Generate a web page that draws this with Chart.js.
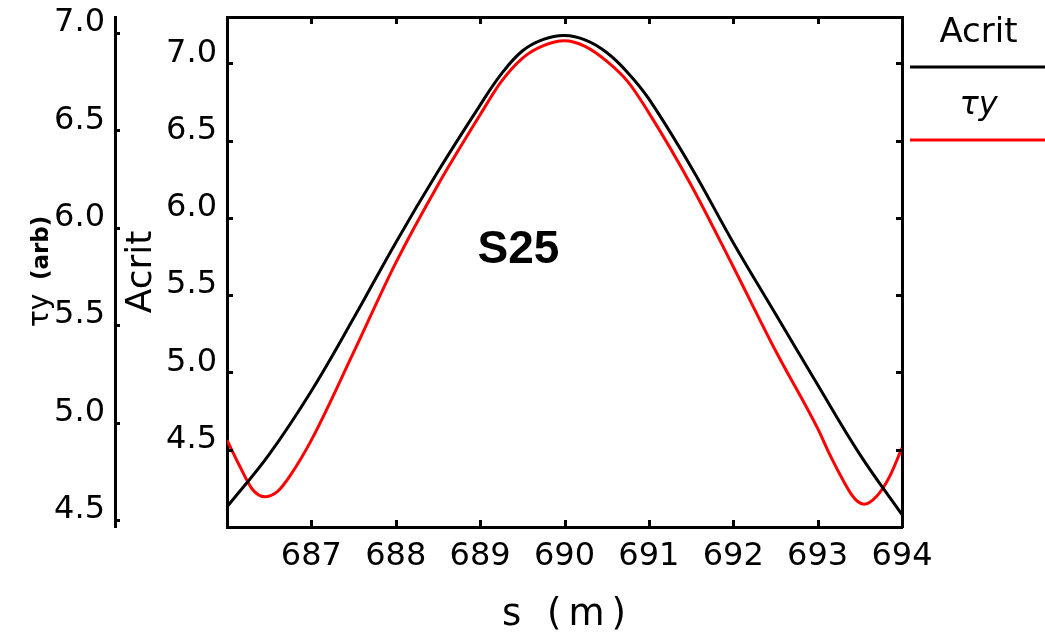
<!DOCTYPE html>
<html>
<head>
<meta charset="utf-8">
<script src="https://cdn.jsdelivr.net/npm/chart.js@4.4.0/dist/chart.umd.min.js"></script>
<style>
html,body{margin:0;padding:0;background:#fff;}
#wrap{width:1045px;height:635px;position:relative;}
</style>
</head>
<body>
<div id="wrap"><canvas id="c" width="1045" height="635"></canvas></div>
<script>
// ---------- data ----------
const sAcrit = [686.0, 686.5, 687.0, 687.5, 688.0, 688.5, 689.0, 689.25, 689.5, 689.75, 690.0,
                690.25, 690.5, 690.75, 691.0, 691.5, 692.0, 692.5, 693.0, 693.5, 694.0];
const acrit  = [4.13, 4.47, 4.88, 5.35, 5.84, 6.30, 6.73, 6.93, 7.08, 7.155, 7.18,
                7.15, 7.07, 6.94, 6.77, 6.33, 5.84, 5.38, 4.92, 4.47, 4.08];

const sTau = [686.0, 686.15, 686.3, 686.45, 686.6, 686.75, 687.0, 687.5, 688.0, 688.5, 689.0,
              689.25, 689.5, 689.75, 690.0, 690.25, 690.5, 690.75, 691.0, 691.5, 692.0,
              692.5, 693.0, 693.15, 693.3, 693.4, 693.475, 693.55, 693.7, 693.85, 694.0];
const tauY = [4.91, 4.777, 4.658, 4.619, 4.647, 4.729, 4.91, 5.36, 5.82, 6.22, 6.58,
              6.75, 6.87, 6.935, 6.96, 6.93, 6.855, 6.75, 6.59, 6.22, 5.80,
              5.37, 4.97, 4.83, 4.705, 4.632, 4.595, 4.581, 4.622, 4.72, 4.87];

const xTicks     = [687, 688, 689, 690, 691, 692, 693, 694];
const acritTicks = [4.5, 5.0, 5.5, 6.0, 6.5, 7.0];
const tauTicks   = [4.5, 5.0, 5.5, 6.0, 6.5, 7.0];

const seriesNames = ['Acrit', 'τy'];
const xTitle = 's (m)';
const acritTitle = 'Acrit';
const tauTitleMain = 'τy';
const tauTitleUnit = '(arb)';
const annotationText = 'S25';
const annotationAt = {s: 688.97, acrit: 5.71};

// ---------- helpers ----------
const FONT = 'DejaVu Sans';
const pts = (xs, ys) => xs.map((x, i) => ({x: x, y: ys[i]}));

const decorations = {
  id: 'decorations',
  afterDraw(chart) {
    const ctx = chart.ctx;
    const ca = chart.chartArea;
    const x = chart.scales.x, y = chart.scales.y, y2 = chart.scales.y2;
    ctx.save();
    ctx.strokeStyle = '#000';
    ctx.lineWidth = 3;
    ctx.lineCap = 'butt';
    ctx.beginPath();
    xTicks.forEach(v => {
      const px = Math.round(x.getPixelForValue(v)) + 0.5;
      ctx.moveTo(px, ca.bottom); ctx.lineTo(px, ca.bottom - 7);
      ctx.moveTo(px, ca.top); ctx.lineTo(px, ca.top + 7);
    });
    acritTicks.forEach(v => {
      const py = Math.round(y.getPixelForValue(v)) + 0.5;
      ctx.moveTo(ca.left, py); ctx.lineTo(ca.left + 6, py);
      ctx.moveTo(ca.right, py); ctx.lineTo(ca.right - 6, py);
    });
    tauTicks.forEach(v => {
      const py = Math.round(y2.getPixelForValue(v)) + 0.5;
      ctx.moveTo(y2.right, py); ctx.lineTo(y2.right + 5, py);
    });
    ctx.stroke();

    ctx.fillStyle = '#000';
    // x axis title
    ctx.save();
    ctx.font = '37px "' + FONT + '"';
    ctx.letterSpacing = '7px';
    ctx.textAlign = 'center';
    ctx.textBaseline = 'alphabetic';
    ctx.fillText(xTitle, (ca.left + ca.right) / 2 + 3, chart.height - 10);
    ctx.restore();

    // outer axis title
    const cy = (ca.top + ca.bottom) / 2;
    const bx = y2.left + 48;
    ctx.textAlign = 'left';
    ctx.textBaseline = 'alphabetic';
    ctx.save();
    ctx.translate(bx, cy + 55);
    ctx.rotate(-Math.PI / 2);
    ctx.font = '28px "' + FONT + '"';
    ctx.fillText(tauTitleMain, 0, 0);
    ctx.restore();
    ctx.save();
    ctx.translate(bx, cy + 8);
    ctx.rotate(-Math.PI / 2);
    ctx.font = 'bold 23px "' + FONT + '"';
    ctx.fillText(tauTitleUnit, 0, 0);
    ctx.restore();

    // annotation
    ctx.font = 'bold 46px "Liberation Sans"';
    ctx.textAlign = 'left';
    ctx.fillText(annotationText, x.getPixelForValue(annotationAt.s), y.getPixelForValue(annotationAt.acrit));

    // legend
    const lx0 = ca.right + 8, lx1 = chart.width;
    const lcx = (lx0 + lx1) / 2 + 1;
    ctx.textAlign = 'center';
    ctx.font = '34px "' + FONT + '"';
    ctx.fillText(seriesNames[0], lcx, ca.top + 25);
    ctx.strokeStyle = chart.data.datasets[0].borderColor;
    ctx.beginPath(); ctx.moveTo(lx0, ca.top + 50); ctx.lineTo(lx1, ca.top + 50); ctx.stroke();
    ctx.font = 'italic 32px "' + FONT + '"';
    ctx.fillText(seriesNames[1], lcx, ca.top + 97);
    ctx.strokeStyle = chart.data.datasets[1].borderColor;
    ctx.beginPath(); ctx.moveTo(lx0, ca.top + 123); ctx.lineTo(lx1, ca.top + 123); ctx.stroke();
    ctx.restore();
  }
};

Chart.defaults.font.family = FONT;
Chart.defaults.color = '#000';

const noPad = s => { s.paddingTop = 0; s.paddingBottom = 0; s.paddingLeft = 0; s.paddingRight = 0; };

new Chart(document.getElementById('c'), {
  type: 'line',
  data: {
    datasets: [
      {label: seriesNames[0], data: pts(sAcrit, acrit), yAxisID: 'y', xAxisID: 'x',
       borderColor: '#000000', borderWidth: 3, pointRadius: 0, tension: 0.4, fill: false},
      {label: seriesNames[1], data: pts(sTau, tauY), yAxisID: 'y2', xAxisID: 'x',
       borderColor: '#ff0000', borderWidth: 3, pointRadius: 0, cubicInterpolationMode: 'monotone', fill: false}
    ]
  },
  options: {
    responsive: false,
    animation: false,
    devicePixelRatio: 1,
    layout: {autoPadding: false, padding: {top: 17, right: 143, left: 0, bottom: 0}},
    plugins: {legend: {display: false}, tooltip: {enabled: false}},
    scales: {
      x: {
        type: 'linear', position: 'bottom', min: 686, max: 694,
        afterBuildTicks: s => { s.ticks = xTicks.map(v => ({value: v})); },
        afterFit: s => { s.height = 108; noPad(s); },
        grid: {display: false, drawTicks: false},
        border: {display: true, width: 3, color: '#000'},
        ticks: {autoSkip: false, maxRotation: 0, padding: 10, font: {size: 32}, color: '#000',
                callback: v => String(v)},
        title: {display: false}
      },
      xTop: {
        type: 'linear', position: 'top', min: 686, max: 694,
        afterFit: s => { s.height = 0; noPad(s); },
        grid: {display: false, drawTicks: false},
        border: {display: true, width: 3, color: '#000'},
        ticks: {display: false}
      },
      y: {
        type: 'linear', position: 'left', min: 4.0, max: 7.3, weight: 0,
        afterBuildTicks: s => { s.ticks = acritTicks.map(v => ({value: v})); },
        afterFit: s => { s.width = 112; noPad(s); },
        grid: {display: false, drawTicks: false},
        border: {display: true, width: 3, color: '#000'},
        ticks: {autoSkip: false, padding: 10, labelOffset: -10, font: {size: 32}, color: '#000',
                callback: v => Number(v).toFixed(1)},
        title: {display: true, text: acritTitle, font: {size: 36, lineHeight: 1.2}, padding: {top: 5, bottom: 0}, color: '#000'}
      },
      y2: {
        type: 'linear', position: 'left', min: 4.464, max: 7.082, weight: 1,
        afterBuildTicks: s => { s.ticks = tauTicks.map(v => ({value: v})); },
        afterFit: s => { s.width = 115; noPad(s); },
        grid: {display: false, drawTicks: false},
        border: {display: true, width: 3, color: '#000'},
        ticks: {autoSkip: false, padding: 10, labelOffset: -10, font: {size: 32}, color: '#000',
                callback: v => Number(v).toFixed(1)}
      },
      yRight: {
        type: 'linear', position: 'right', min: 4.0, max: 7.3,
        afterFit: s => { s.width = 0; noPad(s); },
        grid: {display: false, drawTicks: false},
        border: {display: true, width: 3, color: '#000'},
        ticks: {display: false}
      }
    }
  },
  plugins: [decorations]
});
</script>
</body>
</html>
